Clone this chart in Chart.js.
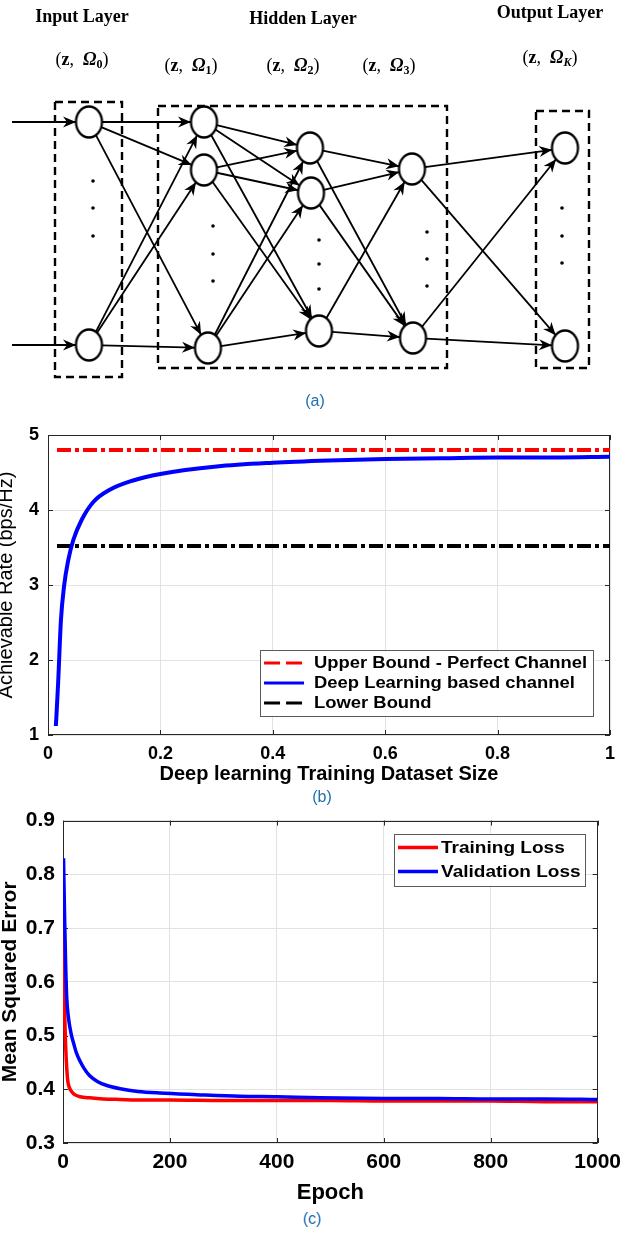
<!DOCTYPE html>
<html>
<head>
<meta charset="utf-8">
<script src="https://cdn.jsdelivr.net/npm/chart.js@4.4.1/dist/chart.umd.min.js"></script>
<style>
  body { margin: 0; background: #fff; }
  #page { position: relative; width: 628px; height: 1234px; overflow: hidden; background: #fff; }
  canvas { position: absolute; left: 0; }
  .lbl { position: absolute; white-space: nowrap; transform: translateX(-50%); line-height: 1; }
  .layer { font-family: "Liberation Serif", serif; font-weight: bold; font-size: 18px; color: #000; }
  .math { font-family: "Liberation Serif", serif; font-size: 18px; color: #000; }
  .math sub { font-size: 12px; vertical-align: -3px; }
  .cap { font-family: "Liberation Sans", Arial, sans-serif; font-size: 16px; color: #1f6fad; }
</style>
</head>
<body>
<div id="page">
  <canvas id="netChart" width="628" height="410" style="top:0"></canvas>
  <canvas id="rateChart" width="628" height="380" style="top:410px"></canvas>
  <canvas id="lossChart" width="628" height="410" style="top:800px"></canvas>

  <div class="lbl layer" style="left:82px; top:7px">Input Layer</div>
  <div class="lbl layer" style="left:303px; top:9px">Hidden Layer</div>
  <div class="lbl layer" style="left:550px; top:3px">Output Layer</div>

  <div class="lbl math" style="left:82px; top:50px">(<b>z</b>,&nbsp; <b><i>Ω</i><sub>0</sub></b>)</div>
  <div class="lbl math" style="left:191px; top:56px">(<b>z</b>,&nbsp; <b><i>Ω</i><sub>1</sub></b>)</div>
  <div class="lbl math" style="left:293px; top:56px">(<b>z</b>,&nbsp; <b><i>Ω</i><sub>2</sub></b>)</div>
  <div class="lbl math" style="left:389px; top:56px">(<b>z</b>,&nbsp; <b><i>Ω</i><sub>3</sub></b>)</div>
  <div class="lbl math" style="left:550px; top:48px">(<b>z</b>,&nbsp; <b><i>Ω</i><sub><i>K</i></sub></b>)</div>

  <div class="lbl cap" style="left:315px; top:393px">(a)</div>
  <div class="lbl cap" style="left:322px; top:789px">(b)</div>
  <div class="lbl cap" style="left:312px; top:1211px">(c)</div>
</div>

<script>
// ---- (a) network diagram, node centres in diagram units ----
const inputNodes = [[89, 122], [89, 345]];
const hidden1Nodes = [[204, 122], [204, 170], [208, 348]];
const hidden2Nodes = [[310, 148], [311, 193], [319, 331]];
const hidden3Nodes = [[412, 169], [413, 338]];
const outputNodes = [[565, 148], [565, 346]];
const inputStartX = 12;

// ellipsis dots between nodes
const ellipsisDots = [
    [93, 181], [93, 208], [93, 236],
    [213, 226], [213, 254], [213, 281],
    [319, 240], [319, 264], [319, 289],
    [427, 232], [427, 259], [427, 286],
    [562, 208], [562, 236], [562, 263]
];

// dashed groups: [x1, y1, x2, y2]
const layerBoxes = [
    [55, 102, 122, 377],
    [158, 106, 447, 368],
    [536, 111, 589, 368]
];

// ---- (b) achievable rate vs dataset size ----
const sizeX = [0.014, 0.018, 0.023, 0.0285, 0.036, 0.045, 0.06, 0.081, 0.11, 0.15, 0.2, 0.3, 0.4, 0.5, 0.6, 0.7, 0.8, 0.9, 1.0];
const dlRate = [1.12, 1.69, 2.53, 2.98, 3.33, 3.6, 3.87, 4.11, 4.27, 4.39, 4.48, 4.58, 4.63, 4.66, 4.68, 4.69, 4.70, 4.70, 4.71];
const boundX = [0.016, 1.0];
const upperBound = [4.8, 4.8];
const lowerBound = [3.52, 3.52];

// ---- (c) training curves ----
const trainEpochs = [1, 2, 3, 5, 7, 9, 12, 16, 22, 32, 50, 75, 107, 150, 200, 300, 400, 500, 600, 700, 800, 900, 1000];
const trainLoss = [0.71, 0.62, 0.55, 0.48, 0.44, 0.415, 0.403, 0.396, 0.39, 0.386, 0.384, 0.382, 0.381, 0.380, 0.380, 0.379, 0.379, 0.379, 0.378, 0.378, 0.378, 0.377, 0.377];
const valEpochs = [1, 3, 5, 7, 10, 13, 16, 20, 25, 32, 40, 50, 65, 82, 107, 140, 181, 250, 331, 400, 480, 600, 700, 800, 900, 1000];
const valLoss = [0.83, 0.72, 0.63, 0.57, 0.535, 0.515, 0.5, 0.485, 0.468, 0.452, 0.438, 0.425, 0.414, 0.407, 0.401, 0.396, 0.393, 0.39, 0.387, 0.386, 0.384, 0.383, 0.383, 0.382, 0.382, 0.381];

Chart.defaults.font.family = '"Liberation Sans", Arial, sans-serif';
Chart.defaults.color = '#000';

const NODE_RX = 13, NODE_RY = 15.5;

function ellipseImage(rx, ry, lw) {
    const c = document.createElement('canvas');
    c.width = Math.ceil(2 * rx + lw + 2);
    c.height = Math.ceil(2 * ry + lw + 2);
    const g = c.getContext('2d');
    g.beginPath();
    g.ellipse(c.width / 2, c.height / 2, rx, ry, 0, 0, Math.PI * 2);
    g.fillStyle = '#fff';
    g.fill();
    g.lineWidth = lw;
    g.strokeStyle = '#000';
    g.stroke();
    return c;
}

// point on node ellipse boundary towards direction (dx, dy)
function rim(node, dx, dy) {
    const len = Math.hypot(dx, dy);
    const ux = dx / len, uy = dy / len;
    const t = 1 / Math.sqrt((ux / NODE_RX) ** 2 + (uy / NODE_RY) ** 2);
    return { x: node[0] + ux * t, y: node[1] + uy * t };
}

function edgeDataset(from, to) {
    const dx = to[0] - from[0], dy = to[1] - from[1];
    return {
        data: [rim(from, dx, dy), rim(to, -dx, -dy)],
        showLine: true, borderColor: '#000', borderWidth: 1.8,
        pointRadius: 0, arrow: true, order: 2
    };
}

function buildNetDatasets() {
    const sets = [];
    const layers = [inputNodes, hidden1Nodes, hidden2Nodes, hidden3Nodes, outputNodes];

    // incoming arrows on the input layer
    inputNodes.forEach(n => {
        sets.push({
            data: [{ x: inputStartX, y: n[1] }, rim(n, -1, 0)],
            showLine: true, borderColor: '#000', borderWidth: 2,
            pointRadius: 0, arrow: true, order: 2
        });
    });

    for (let l = 0; l < layers.length - 1; l++) {
        layers[l].forEach(a => layers[l + 1].forEach(b => sets.push(edgeDataset(a, b))));
    }

    layerBoxes.forEach(b => {
        sets.push({
            data: [
                { x: b[0], y: b[1] }, { x: b[2], y: b[1] }, { x: b[2], y: b[3] },
                { x: b[0], y: b[3] }, { x: b[0], y: b[1] }
            ],
            showLine: true, borderColor: '#000', borderWidth: 2.4,
            borderDash: [8, 5], pointRadius: 0, order: 3
        });
    });

    sets.push({
        data: ellipsisDots.map(d => ({ x: d[0], y: d[1] })),
        pointRadius: 1.8, pointBackgroundColor: '#000', pointBorderWidth: 0, order: 1
    });

    const nodeImg = ellipseImage(NODE_RX, NODE_RY, 2.3);
    sets.push({
        data: layers.flat().map(n => ({ x: n[0], y: n[1] })),
        pointStyle: nodeImg, pointRadius: 16, order: 0
    });
    return sets;
}

const arrowHeads = {
    id: 'arrowHeads',
    afterDatasetsDraw(chart) {
        const { ctx, scales: { x, y } } = chart;
        ctx.save();
        ctx.fillStyle = '#000';
        chart.data.datasets.forEach(ds => {
            if (!ds.arrow) return;
            const a = ds.data[0], b = ds.data[1];
            const x1 = x.getPixelForValue(a.x), y1 = y.getPixelForValue(a.y);
            const x2 = x.getPixelForValue(b.x), y2 = y.getPixelForValue(b.y);
            ctx.save();
            ctx.translate(x2, y2);
            ctx.rotate(Math.atan2(y2 - y1, x2 - x1));
            ctx.beginPath();
            ctx.moveTo(0, 0);
            ctx.lineTo(-13, -5.5);
            ctx.lineTo(-9, 0);
            ctx.lineTo(-13, 5.5);
            ctx.closePath();
            ctx.fill();
            ctx.restore();
        });
        ctx.restore();
    }
};

new Chart(document.getElementById('netChart'), {
    type: 'scatter',
    data: { datasets: buildNetDatasets() },
    options: {
        responsive: false,
        animation: false,
        events: [],
        layout: { padding: 0, autoPadding: false },
        plugins: { legend: { display: false }, tooltip: { enabled: false } },
        scales: {
            x: { display: false, min: 0, max: 628 },
            y: { display: false, min: 0, max: 410, reverse: true }
        }
    },
    plugins: [arrowHeads]
});

// ---- shared helpers for the two MATLAB-style plots ----
const axesFrame = {
    id: 'axesFrame',
    beforeDatasetsDraw(chart) {
        const { ctx, chartArea: a, scales: { x, y } } = chart;
        ctx.save();
        ctx.strokeStyle = '#262626';
        ctx.lineWidth = 1;
        ctx.strokeRect(Math.round(a.left) + 0.5, Math.round(a.top) + 0.5,
            Math.round(a.right - a.left) - 1, Math.round(a.bottom - a.top) - 1);
        ctx.beginPath();
        x.ticks.forEach(t => {
            const p = Math.round(x.getPixelForValue(t.value)) + 0.5;
            ctx.moveTo(p, a.bottom); ctx.lineTo(p, a.bottom - 5);
            ctx.moveTo(p, a.top); ctx.lineTo(p, a.top + 5);
        });
        y.ticks.forEach(t => {
            const p = Math.round(y.getPixelForValue(t.value)) + 0.5;
            ctx.moveTo(a.left, p); ctx.lineTo(a.left + 5, p);
            ctx.moveTo(a.right, p); ctx.lineTo(a.right - 5, p);
        });
        ctx.stroke();
        ctx.restore();
    }
};

function boxLegend(cfg) {
    return {
        id: 'boxLegend',
        afterDraw(chart) {
            const { ctx, chartArea: a } = chart;
            const sets = chart.data.datasets;
            ctx.save();
            ctx.font = cfg.font;
            const textW = Math.max(...sets.map(d => ctx.measureText(d.label).width)) * cfg.stretch;
            const w = cfg.textX + textW + cfg.padRight;
            const h = sets.length * cfg.rowH + cfg.padV * 2;
            const left = a.right - cfg.right - w;
            const top = cfg.top != null ? a.top + cfg.top : a.bottom - cfg.bottom - h;
            ctx.fillStyle = '#fff';
            ctx.fillRect(left, top, w, h);
            ctx.strokeStyle = '#5a5a5a';
            ctx.lineWidth = 1;
            ctx.strokeRect(Math.round(left) + 0.5, Math.round(top) + 0.5, Math.round(w), Math.round(h));
            sets.forEach((d, i) => {
                const cy = top + cfg.padV + cfg.rowH * (i + 0.5);
                ctx.beginPath();
                ctx.setLineDash(d.legendDash || []);
                ctx.strokeStyle = d.borderColor;
                ctx.lineWidth = cfg.sampleWidth;
                ctx.moveTo(left + cfg.sampleX, cy);
                ctx.lineTo(left + cfg.sampleX + cfg.sampleLen, cy);
                ctx.stroke();
                ctx.setLineDash([]);
                ctx.save();
                ctx.translate(left + cfg.textX, cy);
                ctx.scale(cfg.stretch, 1);
                ctx.fillStyle = '#000';
                ctx.textBaseline = 'middle';
                ctx.fillText(d.label, 0, 1);
                ctx.restore();
            });
            ctx.restore();
        }
    };
}

const gridColor = '#e2e2e2';

// ---- (b) ----
new Chart(document.getElementById('rateChart'), {
    type: 'line',
    data: {
        datasets: [
            {
                label: 'Upper Bound - Perfect Channel',
                data: boundX.map((x, i) => ({ x, y: upperBound[i] })),
                borderColor: '#ff0000', borderWidth: 4, borderDash: [14, 4, 4, 4],
                legendDash: [16, 6], pointRadius: 0, order: 2
            },
            {
                label: 'Deep Learning based channel',
                data: sizeX.map((x, i) => ({ x, y: dlRate[i] })),
                borderColor: '#0000ff', borderWidth: 4, cubicInterpolationMode: 'monotone',
                pointRadius: 0, order: 0
            },
            {
                label: 'Lower Bound',
                data: boundX.map((x, i) => ({ x, y: lowerBound[i] })),
                borderColor: '#000000', borderWidth: 4, borderDash: [14, 4, 4, 4],
                legendDash: [16, 6], pointRadius: 0, order: 1
            }
        ]
    },
    options: {
        responsive: false,
        animation: false,
        events: [],
        layout: { padding: { top: 25, right: 18, left: 0, bottom: 0 }, autoPadding: false },
        plugins: { legend: { display: false }, tooltip: { enabled: false } },
        scales: {
            x: {
                type: 'linear', min: 0, max: 1,
                border: { display: false },
                grid: { color: gridColor, drawTicks: false },
                ticks: {
                    stepSize: 0.2, padding: 8, maxRotation: 0, autoSkip: false,
                    font: { size: 18, weight: 'bold' },
                    callback: v => String(+v.toFixed(1))
                },
                title: {
                    display: true, text: 'Deep learning Training Dataset Size',
                    font: { size: 20, weight: 'bold' }, padding: { top: 0, bottom: 4 }
                },
                afterFit(s) { s.height = 55; }
            },
            y: {
                min: 1, max: 5,
                border: { display: false },
                grid: { color: gridColor, drawTicks: false },
                ticks: {
                    stepSize: 1, padding: 9,
                    font: { size: 18, weight: 'bold' }
                },
                title: {
                    display: true, text: 'Achievable Rate (bps/Hz)',
                    font: { size: 20, weight: 'normal' }, padding: { top: -6, bottom: 0 }
                },
                afterFit(s) { s.width = 48; }
            }
        }
    },
    plugins: [axesFrame, boxLegend({
        font: 'bold 16px "Liberation Sans", Arial, sans-serif', stretch: 1.15,
        right: 17, bottom: 19, rowH: 20, padV: 3,
        sampleX: 4, sampleLen: 40, sampleWidth: 3, textX: 54, padRight: 6
    })]
});

// ---- (c) ----
new Chart(document.getElementById('lossChart'), {
    type: 'line',
    data: {
        datasets: [
            {
                label: 'Training Loss',
                data: trainEpochs.map((x, i) => ({ x, y: trainLoss[i] })),
                borderColor: '#ff0000', borderWidth: 3.5, cubicInterpolationMode: 'monotone',
                pointRadius: 0, order: 2
            },
            {
                label: 'Validation Loss',
                data: valEpochs.map((x, i) => ({ x, y: valLoss[i] })),
                borderColor: '#0000ff', borderWidth: 3.5, cubicInterpolationMode: 'monotone',
                pointRadius: 0, order: 1
            }
        ]
    },
    options: {
        responsive: false,
        animation: false,
        events: [],
        layout: { padding: { top: 16, right: 30, left: 0, bottom: 0 }, autoPadding: false },
        plugins: { legend: { display: false }, tooltip: { enabled: false } },
        scales: {
            x: {
                type: 'linear', min: 0, max: 1000,
                border: { display: false },
                grid: { color: gridColor, drawTicks: false },
                ticks: {
                    stepSize: 200, padding: 7, maxRotation: 0, autoSkip: false,
                    font: { size: 21, weight: 'bold' },
                    callback: v => String(v)
                },
                title: {
                    display: true, text: 'Epoch',
                    font: { size: 22, weight: 'bold' }, padding: { top: 0, bottom: 4 }
                },
                afterFit(s) { s.height = 67; }
            },
            y: {
                min: 0.3, max: 0.9,
                border: { display: false },
                grid: { color: gridColor, drawTicks: false },
                ticks: {
                    stepSize: 0.1, padding: 8,
                    font: { size: 21, weight: 'bold' },
                    callback: v => v.toFixed(1)
                },
                title: {
                    display: true, text: 'Mean Squared Error',
                    font: { size: 21, weight: 'bold' }, padding: { top: -2, bottom: 0 }
                },
                afterFit(s) { s.width = 63; }
            }
        }
    },
    plugins: [axesFrame, boxLegend({
        font: 'bold 17px "Liberation Sans", Arial, sans-serif', stretch: 1.12,
        right: 13, top: 13, rowH: 24, padV: 2,
        sampleX: 4, sampleLen: 40, sampleWidth: 3.5, textX: 47, padRight: 4
    })]
});
</script>
</body>
</html>
